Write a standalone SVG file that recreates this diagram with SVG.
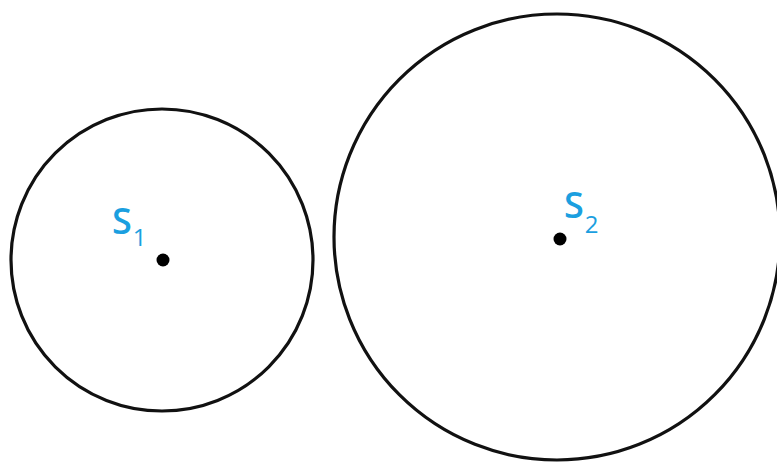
<svg xmlns="http://www.w3.org/2000/svg" width="777" height="463" viewBox="0 0 777 463">
<style>
.ring{fill:none;stroke:#111;stroke-width:3.2}
.dot{fill:#000}
.lbl{font-family:"Open Sans","Noto Sans",sans-serif;fill:#1b9fe0}
.s{font-size:36px;font-weight:600}
.sub{font-size:24px;font-weight:400}
</style>
<rect width="777" height="463" fill="#fff"/>
<g id="circle1">
<circle class="ring" cx="162" cy="260" r="151"/>
<circle class="dot" cx="163" cy="260" r="6.5"/>
<text class="lbl" x="112" y="234"><tspan class="s">S</tspan><tspan class="sub" dx="1" dy="12">1</tspan></text>
</g>
<g id="circle2">
<circle class="ring" cx="557" cy="237" r="223"/>
<circle class="dot" cx="560" cy="239" r="6.5"/>
<text class="lbl" x="564" y="218"><tspan class="s">S</tspan><tspan class="sub" dx="1" dy="15">2</tspan></text>
</g>
</svg>
